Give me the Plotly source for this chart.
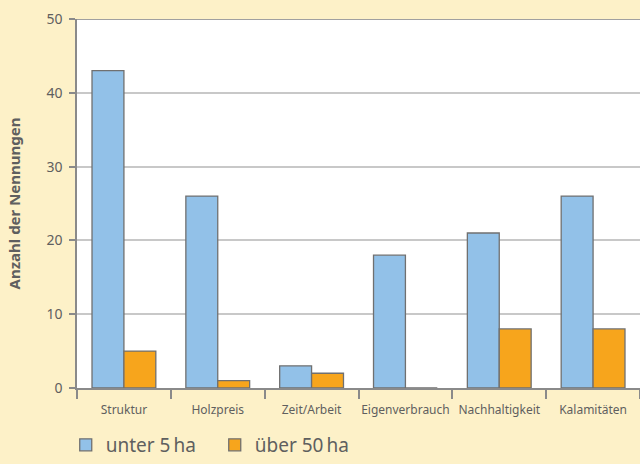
import plotly.graph_objects as go

categories = ['Struktur', 'Holzpreis', 'Zeit/Arbeit', 'Eigenverbrauch', 'Nachhaltigkeit', 'Kalamitäten']
unter_5ha = [43, 26, 3, 18, 21, 26]
ueber_50ha = [5, 1, 2, 0, 8, 8]

bg = '#FDF1C8'
grey_text = '#5F5F5F'

fig = go.Figure()
fig.add_trace(go.Bar(x=categories, y=unter_5ha, name='unter 5\u2009ha',
                     marker=dict(color='#92C1E8', line=dict(color='#707070', width=1.3))))
fig.add_trace(go.Bar(x=categories, y=ueber_50ha, name='über 50\u2009ha',
                     marker=dict(color='#F7A51C', line=dict(color='#707070', width=1.3))))

fig.update_layout(
    width=640, height=464,
    paper_bgcolor=bg, plot_bgcolor='white',
    margin=dict(l=77, r=0, t=19, b=76),
    barmode='group', bargap=0.32, bargroupgap=0,
    font=dict(family='Noto Sans', color=grey_text),
    showlegend=True,
    legend=dict(orientation='h', x=-0.02, xanchor='left', y=-0.014, yref='container', yanchor='bottom',
                font=dict(size=19, color=grey_text), bgcolor='rgba(0,0,0,0)',
                itemwidth=30, entrywidth=104, entrywidthmode='pixels', traceorder='normal'),
)
fig.update_xaxes(
    showline=True, linecolor='#8A8A8A', linewidth=1.5,
    ticks='outside', tickson='boundaries', ticklen=9, tickcolor='#8A8A8A', tickwidth=1.5,
    tickfont=dict(size=12, color=grey_text), showgrid=False, tickangle=0, automargin=False,
    ticklabelstandoff=10,
)
fig.update_yaxes(
    range=[0, 50], dtick=10, showgrid=True, gridcolor='#C8C8C8', gridwidth=1.5,
    showline=True, linecolor='#8A8A8A', linewidth=1.5, mirror=False,
    ticks='outside', ticklen=6, tickcolor='#8A8A8A', tickwidth=1.5,
    tickfont=dict(size=14, color=grey_text), zeroline=False, automargin=False,
    ticklabelstandoff=4,
    title=dict(text='<b>Anzahl der Nennungen</b>', font=dict(size=15, color=grey_text), standoff=22),
)
fig.add_shape(type='line', xref='paper', yref='y', x0=0, x1=1, y0=50, y1=50,
              line=dict(color='#808080', width=1.5))

fig.write_html('out.html', config={'displayModeBar': False},
               post_script="document.body.style.margin='0';")
